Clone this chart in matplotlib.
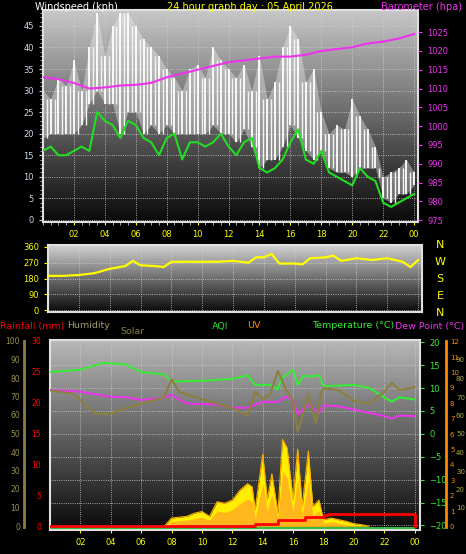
import matplotlib
matplotlib.use("Agg")
import matplotlib.pyplot as plt
import numpy as np

W, H = 466, 554

# ---- top panel: wind + barometer (half-hour samples) ----
t_half = np.arange(0, 24.5, 0.5)
wind_avg = [16, 17, 15, 15, 16, 17, 16, 25, 23, 22, 19, 23, 22, 19, 18, 15, 19, 20, 14, 18,
            18, 17, 18, 20, 17, 15, 18, 19, 12, 11, 12, 14, 18, 21, 14, 13, 16, 11, 10, 9,
            8, 12, 10, 9, 4, 3, 4, 5, 6]
gust_hi = [30, 28, 33, 31, 37, 30, 40, 48, 38, 45, 48, 48, 45, 42, 40, 38, 35, 33, 30, 35,
           36, 33, 40, 37, 35, 33, 36, 30, 38, 28, 32, 40, 45, 42, 32, 35, 25, 20, 22, 21,
           28, 24, 21, 17, 10, 11, 12, 14, 11]
gust_lo = [19, 20, 20, 20, 20, 22, 27, 30, 27, 27, 20, 25, 25, 20, 22, 20, 22, 20, 20, 20,
           20, 20, 22, 20, 20, 18, 21, 17, 12, 14, 14, 17, 22, 19, 16, 14, 16, 12, 11, 11,
           10, 12, 12, 12, 5, 4, 6, 6, 8]
baro_t = [0, 1, 2, 3, 4, 5, 6, 7, 8, 9, 10, 11, 12, 13, 14, 15, 16, 17, 18, 19, 20, 21, 22, 23, 24]
baro = [1013, 1012.5, 1011.5, 1010, 1010.3, 1010.8, 1011, 1011.5, 1013, 1014, 1015, 1016,
        1017, 1017.5, 1018, 1018.5, 1018.5, 1019, 1020, 1020.5, 1021, 1022, 1022.5, 1023.3, 1024.5]

# ---- middle panel: wind direction ----
dir_t = [0, 1, 2, 3, 4, 5, 5.5, 6, 7, 7.5, 8, 9, 10, 11, 12, 13, 13.5, 14, 14.5, 15, 16,
         16.5, 17, 18, 18.5, 19, 20, 21, 22, 22.5, 23, 23.5, 24]
wdir = [195, 195, 200, 210, 235, 250, 280, 255, 250, 245, 275, 275, 275, 275, 280, 270, 300,
        300, 320, 265, 265, 260, 295, 300, 310, 280, 295, 285, 295, 285, 275, 245, 285]

# ---- bottom panel ----
temp_t = [0, 2, 3.5, 5, 6, 7.5, 8, 10, 12, 13, 13.5, 14.5, 15, 15.2, 16, 16.3, 16.7, 17, 17.7,
          18, 20, 21, 22.5, 23, 24]
temp = [13.5, 14, 15.5, 15.2, 13.5, 13, 11.4, 11.6, 12, 12.8, 10.7, 10.7, 9.7, 12, 14, 10.7,
        12.8, 12.5, 12.8, 10.4, 10.7, 10, 7, 8, 7.5]
dew_t = [0, 2, 4, 5, 6, 7.5, 8, 9, 11, 12, 13, 14, 15, 15.5, 16, 16.3, 17, 17.7, 18, 19, 20,
         22, 22.5, 23, 24]
dew = [9.6, 9.2, 8.1, 8.0, 7.4, 7.9, 8.5, 6.6, 6.4, 5.7, 5.7, 7, 7, 8.1, 7.4, 4.3, 6.4, 4.6,
       6.2, 6.0, 5.3, 3.9, 3.3, 4.0, 3.9]
hum_t = [0, 1.5, 3, 4, 5, 6, 7.5, 8, 8.5, 10, 12, 13, 13.5, 14, 14.5, 15, 15.5, 16, 16.3,
         16.7, 17, 17.5, 17.8, 18, 19, 20, 21, 22, 22.5, 23, 24]
hum = [74.8, 73, 62, 62, 65, 67.5, 71, 81, 74, 70, 65, 61, 74, 70, 73, 85.5, 76, 68.5, 52,
       63, 73, 57, 72, 76, 75, 69, 67.5, 74, 79, 75, 76.5]
sol_t = [7.5, 7.7, 8, 9, 9.5, 10, 10.5, 11, 11.5, 12, 12.5, 13, 13.3, 13.5, 14, 14.3, 14.6,
         15, 15.3, 15.6, 16, 16.3, 16.6, 17, 17.3, 17.7, 18, 18.5, 19, 19.5, 20, 20.5, 21]
solar = [0, 20, 54, 65, 86, 97, 65, 162, 151, 173, 238, 281, 260, 108, 475, 175, 346, 86,
         573, 518, 173, 508, 130, 497, 130, 173, 43, 54, 43, 32, 17, 10, 0]
uv = [0, 0.1, 0.3, 0.4, 0.5, 0.6, 0.4, 1.0, 0.9, 1.1, 1.5, 1.8, 1.6, 0.5, 2.8, 1.0, 2.1, 0.5,
      3.6, 3.2, 1.0, 3.1, 0.7, 3.0, 0.7, 1.0, 0.2, 0.3, 0.2, 0.1, 0.05, 0, 0]
rain_t = [0, 13.5, 15.0, 16.8, 18.0, 18.3, 24.0, 24.01]
rain = [0, 0.4, 1.1, 1.5, 1.8, 2.0, 2.0, 0]

hour_labels = ["02", "04", "06", "08", "10", "12", "14", "16", "18", "20", "22", "00"]
hour_ticks = [2, 4, 6, 8, 10, 12, 14, 16, 18, 20, 22, 24]


def rect(x0, y0, x1, y1):
    return [x0 / W, 1 - y1 / H, (x1 - x0) / W, (y1 - y0) / H]


def backdrop(ax, top=0.78):
    grad = np.linspace(top, 0.04, 200).reshape(-1, 1)
    ax.imshow(grad, aspect="auto", cmap="gray", vmin=0, vmax=1, zorder=0,
              extent=[*ax.get_xlim(), *ax.get_ylim()], origin="upper")
    ax.set_facecolor("black")
    for s in ax.spines.values():
        s.set_color("#e0e0e0")
        s.set_linewidth(1.5)
    ax.grid(True, color="#d0d0d0", ls=":", lw=0.6)


plt.rcParams.update({"font.family": "DejaVu Sans", "font.size": 6})
fig = plt.figure(figsize=(W / 100, H / 100), dpi=100, facecolor="black")

# ---------------- top ----------------
ax = fig.add_axes(rect(43, 10, 418, 222))
ax.set_xlim(0, 24.25); ax.set_ylim(-0.5, 48.7)
backdrop(ax)
ax.fill_between(t_half, gust_lo, gust_hi, color="#f0f0f0", alpha=0.4, zorder=2, lw=0)
ax.vlines(t_half, gust_lo, gust_hi, color="white", lw=1.3, zorder=2)
ax.vlines(t_half + 0.25, gust_lo, np.minimum(gust_hi, np.roll(gust_hi, -1)),
          color="#f4f4f4", lw=1.0, zorder=2)
ax.plot(t_half, wind_avg, color="#22dd22", lw=1.5, zorder=3)
ax.set_xticks(hour_ticks); ax.set_xticklabels(hour_labels, color="yellow")
ax.set_yticks(range(0, 50, 5))
ax.tick_params(axis="y", colors="#c8d8f0", labelsize=6, length=3)
ax.tick_params(axis="x", colors="yellow", labelsize=6, length=2)
ax.minorticks_on()
ax.tick_params(which="minor", colors="#c0c0c0", length=2)
bx = ax.twinx()
bx.set_ylim(974.5, 1030.9)
bx.plot(baro_t, baro, color="#ee33ee", lw=1.5, zorder=4)
bx.set_yticks(range(975, 1030, 5))
bx.tick_params(axis="y", colors="#ee33ee", labelsize=6, length=3)
for s in bx.spines.values():
    s.set_visible(False)
fig.text(35 / W, 1 - 7 / H, "Windspeed (kph)", color="white", fontsize=7, va="center")
fig.text(250 / W, 1 - 7 / H, "24 hour graph day : 05 April 2026", color="yellow",
         fontsize=7, va="center", ha="center")
fig.text(462 / W, 1 - 7 / H, "Barometer (hpa)", color="#ee33ee", fontsize=7,
         va="center", ha="right")

# ---------------- middle ----------------
mx = fig.add_axes(rect(48, 245, 422, 312))
mx.set_xlim(0, 24.25); mx.set_ylim(-10, 370)
backdrop(mx, top=0.82)
mx.plot(dir_t, wdir, color="yellow", lw=1.6, zorder=3)
mx.set_xticks(hour_ticks); mx.set_xticklabels([])
mx.set_yticks([0, 90, 180, 270, 360])
mx.tick_params(axis="y", colors="yellow", labelsize=6, length=3)
mx.tick_params(axis="x", length=0)
for i, lab in enumerate(["N", "W", "S", "E", "N"]):
    fig.text(440 / W, 1 - (245 + i * 17) / H, lab, color="yellow", fontsize=8,
             ha="center", va="center")

# ---------------- bottom ----------------
lx = fig.add_axes(rect(50, 340, 420, 530))
lx.set_xlim(0, 24.35); lx.set_ylim(-21, 20.5)
backdrop(lx, top=0.72)
s_ax = lx.twinx(); s_ax.set_ylim(-25, 1230); s_ax.set_axis_off()
s_ax.fill_between(sol_t, 0, solar, color="#ffee00", zorder=2, lw=0)
s_ax.plot(sol_t, solar, color="#ffaa00", lw=0.8)
u_ax = lx.twinx(); u_ax.set_ylim(-0.25, 12.3); u_ax.set_axis_off()
u_ax.fill_between(sol_t, 0, uv, color="#ffaa22", alpha=0.8, zorder=3, lw=0)
r_ax = lx.twinx(); r_ax.set_ylim(-0.6, 30.7); r_ax.set_axis_off()
r_ax.plot(rain_t, rain, color="red", lw=2, drawstyle="steps-post", zorder=5)
r_ax.axhline(-0.25, color="#44dd44", lw=1.2, xmax=0.985)
h_ax = lx.twinx(); h_ax.set_ylim(-2, 102.5); h_ax.set_axis_off()
h_ax.plot(hum_t, hum, color="#8b8040", lw=1.5)
lx.plot(temp_t, temp, color="#33ee33", lw=1.4, zorder=4)
lx.plot(dew_t, dew, color="#ee33ee", lw=1.4, zorder=4)
lx.set_xticks(hour_ticks); lx.set_xticklabels(hour_labels)
lx.tick_params(axis="x", colors="yellow", labelsize=6, length=2)
lx.yaxis.tick_right()
lx.set_yticks(range(-20, 21, 5))
lx.tick_params(axis="y", colors="#33ee33", labelsize=6, length=3)
for v in range(0, 101, 10):
    y = 527 - v * 1.85
    fig.text(20 / W, 1 - y / H, str(v), color="#9a9050", fontsize=5.5, ha="right", va="center")
for v in range(0, 31, 5):
    y = 527 - v * 6.17
    fig.text(41 / W, 1 - y / H, str(v), color="red", fontsize=5.5, ha="right", va="center")
for v in range(0, 13):
    y = 527 - v * 15.4
    fig.text(450 / W, 1 - y / H, str(v), color="#ff8800", fontsize=5, ha="left", va="center")
for v in range(10, 100, 10):
    y = 527 - v * 1.85
    fig.text(456 / W, 1 - y / H, str(v), color="#aaaa44", fontsize=5, ha="left", va="center")
fig.add_artist(plt.Line2D([24 / W, 24 / W], [1 - 527 / H, 1 - 341 / H], color="#8b8040", lw=2))
fig.add_artist(plt.Line2D([446 / W, 446 / W], [1 - 527 / H, 1 - 341 / H], color="#ff8800", lw=2))

labels = [("Rainfall (mm)", 0, 326, "red"), ("Humidity", 67, 326, "#a09a70"),
          ("Solar", 120, 331, "#8b8040"), ("AQI", 212, 326, "#22dd22"),
          ("UV", 247, 326, "#ff8800"), ("Temperature (°C)", 312, 326, "#33ee33"),
          ("Dew Point (°C)", 395, 326, "#ee33ee")]
for txt, x, y, c in labels:
    fig.text(x / W, 1 - y / H, txt, color=c, fontsize=6.8, va="center")

fig.savefig("out.png", dpi=100, facecolor="black")
